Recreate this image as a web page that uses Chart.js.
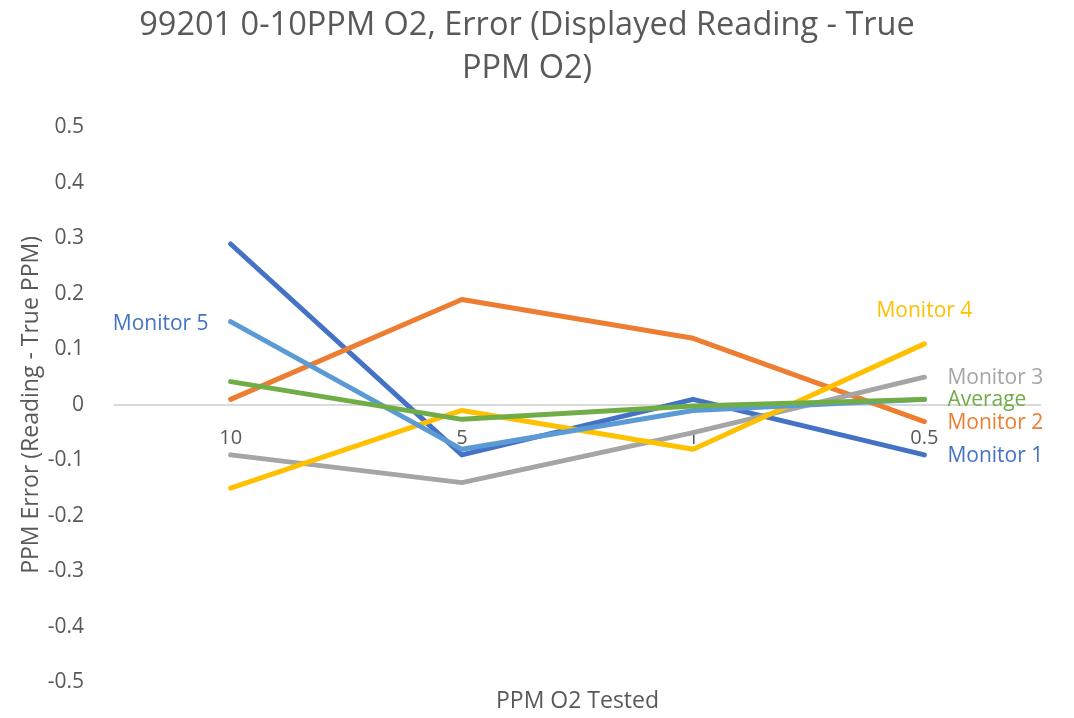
<!DOCTYPE html>
<html lang="en">
<head>
  <meta charset="UTF-8">
  <title>99201 0-10PPM O2 Error</title>
  <script src="https://cdn.jsdelivr.net/npm/chart.js"></script>
  <style>
    body { margin:0; background:#fff; }
    canvas { display:block; }
  </style>
</head>
<body>
  <canvas id="errChart" width="1074" height="718"></canvas>
  <script>
    // data
    const categories = ["10", "5", "1", "0.5"];
    const monitor1 = [0.29, -0.09, 0.01, -0.09];
    const monitor2 = [0.01, 0.19, 0.12, -0.03];
    const monitor3 = [-0.09, -0.14, -0.05, 0.05];
    const monitor4 = [-0.15, -0.01, -0.08, 0.11];
    const monitor5 = [0.15, -0.08, -0.01, 0.01];
    const average  = [0.042, -0.026, -0.002, 0.01];

    const FONT = "'Open Sans', 'Liberation Sans', Arial, sans-serif";
    const GREY = '#595959';

    // series styling; label = where the series name sits next to its line
    const series = [
      { name:'Monitor 1', data:monitor1, color:'#4472C4', label:'right' },
      { name:'Monitor 2', data:monitor2, color:'#ED7D31', label:'right' },
      { name:'Monitor 3', data:monitor3, color:'#A5A5A5', label:'right' },
      { name:'Monitor 4', data:monitor4, color:'#FFC000', label:'above' },
      { name:'Monitor 5', data:monitor5, color:'#5B9BD5', label:'left', labelColor:'#4472C4' },
      { name:'Average',   data:average,  color:'#70AD47', label:'right' }
    ];

    // series names next to the lines + x axis title centred under the plot
    const extras = {
      id:'extras',
      afterDatasetsDraw(chart){
        const ctx = chart.ctx;
        ctx.save();
        ctx.font = "21px " + FONT;
        ctx.textBaseline = 'middle';
        chart.data.datasets.forEach((ds, i) => {
          const s = series[i];
          const pts = chart.getDatasetMeta(i).data;
          let p, x, y;
          if (s.label === 'left') {
            p = pts[0]; x = p.x - 22; y = p.y + 2; ctx.textAlign = 'right';
          } else if (s.label === 'above') {
            p = pts[pts.length-1]; x = p.x; y = p.y - 33; ctx.textAlign = 'center';
          } else {
            p = pts[pts.length-1]; x = p.x + 23; y = p.y + 1; ctx.textAlign = 'left';
          }
          ctx.fillStyle = s.labelColor || s.color;
          ctx.fillText(s.name, x, y);
        });
        const a = chart.chartArea;
        ctx.font = "23px " + FONT;
        ctx.fillStyle = GREY;
        ctx.textAlign = 'center';
        ctx.fillText('PPM O2 Tested', (a.left + a.right) / 2, a.bottom + 19);
        ctx.restore();
      }
    };

    new Chart(document.getElementById('errChart').getContext('2d'), {
      type:'line',
      data:{
        labels: categories,
        datasets: series.map((s, i) => ({
          label: s.name,
          data: s.data,
          borderColor: s.color,
          backgroundColor: s.color,
          borderWidth: 5,
          borderCapStyle: 'round',
          borderJoinStyle: 'round',
          pointRadius: 0,
          tension: 0,
          order: series.length - i
        }))
      },
      options:{
        responsive:false,
        animation:false,
        layout:{ padding:{ top:4, right:34, bottom:32, left:14 } },
        plugins:{
          legend:{ display:false },
          tooltip:{ enabled:false },
          title:{
            display:true,
            text:["99201 0-10PPM O2, Error (Displayed Reading - True", "PPM O2)"],
            color:GREY,
            font:{ family:FONT, size:32.5, weight:'normal', lineHeight:1.33 },
            padding:{ top:0, bottom:37 }
          }
        },
        scales:{
          x:{
            position:{ y:0 },
            offset:true,
            afterFit: scale => { scale.height = 0; },
            grid:{ display:false },
            border:{ display:true, color:'#D9D9D9', width:2 },
            ticks:{ color:GREY, font:{ family:FONT, size:20 }, padding:13 }
          },
          y:{
            min:-0.5,
            max:0.5,
            afterFit: scale => { scale.width = 101; },
            grid:{ display:false },
            border:{ display:false },
            ticks:{
              stepSize:0.1,
              color:GREY,
              font:{ family:FONT, size:21 },
              padding:23,
              callback: v => String(Math.round(v*10)/10)
            },
            title:{
              display:true,
              text:'PPM Error (Reading - True PPM)',
              color:GREY,
              font:{ family:FONT, size:23, weight:'normal' },
              padding:{ top:4, bottom:8 }
            }
          }
        }
      },
      plugins:[extras]
    });
  </script>
</body>
</html>
